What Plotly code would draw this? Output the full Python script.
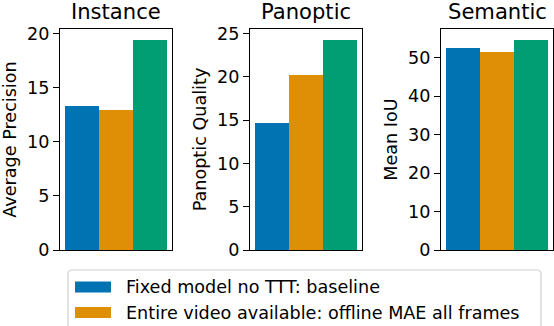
import plotly.graph_objects as go
from plotly.subplots import make_subplots

# ---- data ----
tasks = ["Instance", "Panoptic", "Semantic"]
metric_labels = ["Average Precision", "Panoptic Quality", "Mean IoU"]
methods = ["Fixed model no TTT: baseline",
           "Entire video available: offline MAE all frames",
           "Method 3"]
instance_vals = [13.35, 12.93, 19.45]
panoptic_vals = [14.62, 20.22, 24.31]
semantic_vals = [52.6, 51.4, 54.7]
tick_steps = [5, 5, 10]
colors = ["#0173b2", "#de8f05", "#029e73"]

all_vals = [instance_vals, panoptic_vals, semantic_vals]

W, H = 554, 326
FONT = "DejaVu Sans"
BASE = 17.6
TITLE = 21.1

def px(x):
    return x / W

def py(y):
    return 1 - y / H

fig = make_subplots(rows=1, cols=3)

x_domains = [(60, 172), (250, 362), (441, 553)]
y_top, y_bot = 29, 250

for c, vals in enumerate(all_vals):
    for i, v in enumerate(vals):
        fig.add_trace(go.Bar(x=[i], y=[v], width=1, name=methods[i],
                             marker=dict(color=colors[i], line=dict(width=0)),
                             showlegend=False), row=1, col=c + 1)
    ax = "" if c == 0 else str(c + 1)
    x0, x1 = x_domains[c]
    fig.layout["xaxis" + ax].update(domain=[px(x0), px(x1)], range=[-0.65, 2.65],
                                    showticklabels=False, ticks="", showgrid=False,
                                    zeroline=False, showline=True, mirror=True,
                                    linecolor="black", linewidth=1.3)
    fig.layout["yaxis" + ax].update(domain=[py(y_bot), py(y_top)],
                                    range=[0, max(vals) * 1.05], dtick=tick_steps[c],
                                    tick0=0, ticks="outside", ticklen=6, tickwidth=1.3,
                                    tickcolor="black", showgrid=False, zeroline=False,
                                    showline=True, mirror=True, linecolor="black",
                                    linewidth=1.3,
                                    tickfont=dict(family=FONT, size=BASE, color="black"),
                                    title=dict(text=metric_labels[c], standoff=5,
                                               font=dict(family=FONT, size=BASE, color="black")))
    fig.add_annotation(x=px((x0 + x1) / 2), y=py(y_top) + 3 / H, xref="paper", yref="paper",
                       text=tasks[c], showarrow=False, xanchor="center", yanchor="bottom",
                       font=dict(family=FONT, size=TITLE, color="black"))

# ---- legend (drawn manually, clipped at bottom like the reference) ----
lx0, lx1, ly0, ly1, r = 68, 541, 270, 345, 4
path = (f"M {px(lx0 + r)} {py(ly0)} L {px(lx1 - r)} {py(ly0)} "
        f"Q {px(lx1)} {py(ly0)} {px(lx1)} {py(ly0 + r)} "
        f"L {px(lx1)} {py(ly1 - r)} Q {px(lx1)} {py(ly1)} {px(lx1 - r)} {py(ly1)} "
        f"L {px(lx0 + r)} {py(ly1)} Q {px(lx0)} {py(ly1)} {px(lx0)} {py(ly1 - r)} "
        f"L {px(lx0)} {py(ly0 + r)} Q {px(lx0)} {py(ly0)} {px(lx0 + r)} {py(ly0)} Z")
fig.add_shape(type="path", path=path, xref="paper", yref="paper",
              line=dict(color="#d0d0d0", width=1.2), fillcolor="rgba(255,255,255,0.8)")

row_centers = [287, 312.5]
for i, yc in enumerate(row_centers):
    fig.add_shape(type="rect", xref="paper", yref="paper",
                  x0=px(75), x1=px(111), y0=py(yc + 5.5), y1=py(yc - 5.5),
                  fillcolor=colors[i], line=dict(width=0))
    fig.add_annotation(x=px(124), y=py(yc), xref="paper", yref="paper",
                       text=methods[i], showarrow=False, xanchor="left", yanchor="middle",
                       font=dict(family=FONT, size=BASE, color="black"))

fig.update_layout(width=W, height=H, margin=dict(l=0, r=0, t=0, b=0, autoexpand=False),
                  barmode="overlay", bargap=0, plot_bgcolor="white", paper_bgcolor="white",
                  font=dict(family=FONT, size=BASE, color="black"), showlegend=False)

fig.write_html("out.html", config={"displayModeBar": False},
               post_script="document.body.style.margin='0';document.body.style.overflow='hidden';")
